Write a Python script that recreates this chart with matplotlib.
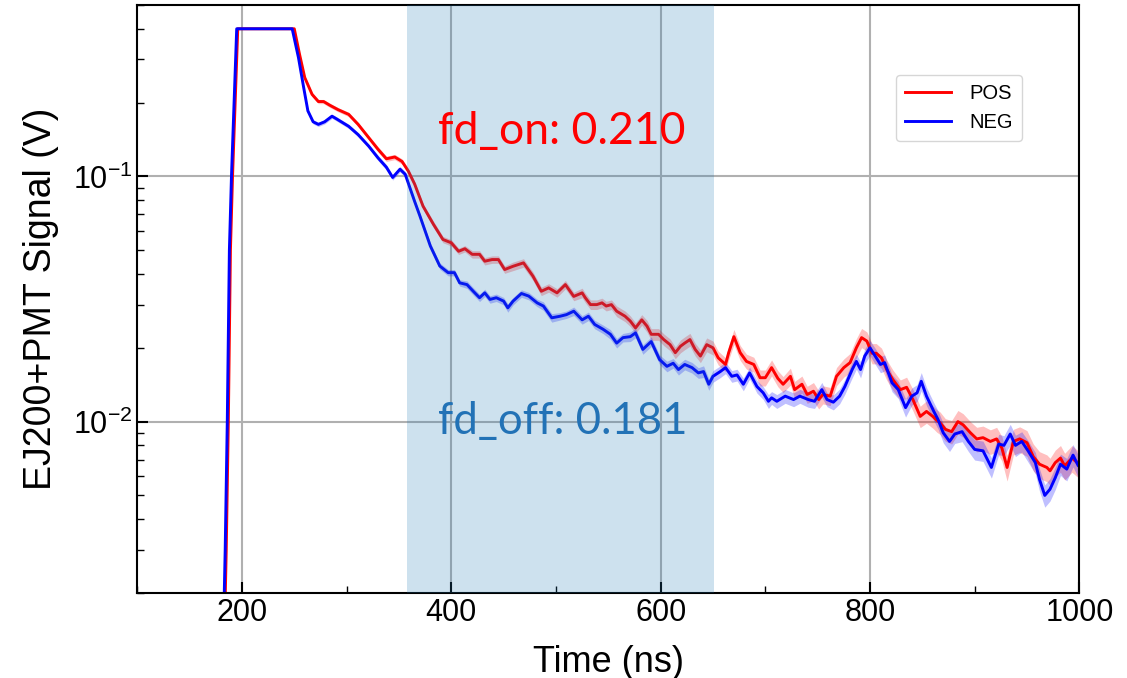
import numpy as np
import matplotlib
matplotlib.use("Agg")
import matplotlib.pyplot as plt
from matplotlib.ticker import MultipleLocator, NullFormatter, LogLocator

plt.rcParams['font.family'] = ['Liberation Sans', 'DejaVu Sans']
plt.rcParams['mathtext.fontset'] = 'custom'
plt.rcParams['mathtext.rm'] = 'Liberation Sans'
plt.rcParams['mathtext.it'] = 'Liberation Sans:italic'

# NEG (blue) trace, time in ns, signal in V, relative error
neg_t = [182, 184, 186, 188, 190, 195, 248, 254, 259, 263,
         268, 273, 279, 286, 290, 302, 311, 321, 330, 338,
         344, 351, 356, 360, 365, 370, 380, 389, 397, 403,
         408, 415, 421, 427, 432, 437, 443, 450, 454, 459,
         467, 474, 482, 488, 496, 504, 510, 517, 525, 531,
         537, 545, 552, 558, 564, 571, 576, 583, 591, 599,
         606, 612, 617, 623, 630, 636, 641, 646, 650, 657,
         662, 668, 673, 679, 685, 692, 698, 703, 706, 711,
         719, 727, 733, 741, 747, 754, 759, 765, 771, 776,
         783, 787, 791, 795, 800, 805, 810, 814, 821, 827,
         834, 840, 845, 849, 854, 861, 865, 870, 876, 881,
         888, 894, 900, 908, 916, 923, 928, 934, 939, 945,
         951, 958, 962, 967, 972, 977, 982, 988, 994, 999,
         1002]
neg_v = [0.0012, 0.003, 0.01, 0.05, 0.1, 0.4, 0.4, 0.305, 0.23, 0.185,
         0.167, 0.163, 0.167, 0.176, 0.172, 0.160, 0.148, 0.133, 0.119, 0.109,
         0.099, 0.107, 0.102, 0.091, 0.079, 0.069, 0.052, 0.0431, 0.0405, 0.0405,
         0.0368, 0.0362, 0.034, 0.032, 0.0335, 0.0315, 0.032, 0.031, 0.0291, 0.031,
         0.0333, 0.0325, 0.0305, 0.0296, 0.0265, 0.0269, 0.0273, 0.0282, 0.026, 0.0269,
         0.0249, 0.0238, 0.0227, 0.0209, 0.022, 0.0222, 0.023, 0.0197, 0.0212, 0.0179,
         0.0168, 0.0173, 0.0163, 0.0171, 0.0166, 0.0158, 0.016, 0.0142, 0.0153, 0.016,
         0.0166, 0.0153, 0.0155, 0.0142, 0.0158, 0.0139, 0.0131, 0.0121, 0.0125, 0.0121,
         0.0127, 0.0123, 0.0127, 0.0123, 0.0121, 0.0135, 0.0123, 0.012, 0.0127, 0.0139,
         0.0163, 0.0176, 0.0163, 0.0185, 0.020, 0.0185, 0.0171, 0.0174, 0.0144, 0.0135,
         0.0114, 0.0127, 0.0131, 0.0146, 0.0127, 0.011, 0.0102, 0.009, 0.0083, 0.0089,
         0.0091, 0.0083, 0.0077, 0.0076, 0.0065, 0.0081, 0.008, 0.0089, 0.008, 0.0083,
         0.0076, 0.0068, 0.0058, 0.005, 0.0053, 0.0059, 0.0067, 0.0064, 0.0073, 0.0066,
         0.0068]
neg_err = [0.01, 0.01, 0.01, 0.01, 0.01, 0.0, 0.0, 0.02, 0.02, 0.02,
           0.02, 0.02, 0.02, 0.02, 0.02, 0.02, 0.02, 0.02, 0.025, 0.025,
           0.025, 0.025, 0.025, 0.025, 0.025, 0.025, 0.03, 0.03, 0.03, 0.03,
           0.03, 0.035, 0.035, 0.035, 0.035, 0.035, 0.035, 0.035, 0.04, 0.035,
           0.035, 0.035, 0.035, 0.04, 0.04, 0.035, 0.035, 0.04, 0.04, 0.04,
           0.04, 0.04, 0.045, 0.045, 0.04, 0.045, 0.045, 0.045, 0.045, 0.045,
           0.05, 0.045, 0.05, 0.05, 0.05, 0.05, 0.055, 0.055, 0.055, 0.055,
           0.055, 0.055, 0.055, 0.06, 0.055, 0.06, 0.06, 0.065, 0.06, 0.065,
           0.065, 0.065, 0.065, 0.07, 0.065, 0.07, 0.065, 0.07, 0.07, 0.07,
           0.075, 0.07, 0.075, 0.07, 0.07, 0.075, 0.075, 0.075, 0.08, 0.08,
           0.085, 0.08, 0.08, 0.085, 0.085, 0.085, 0.085, 0.09, 0.09, 0.085,
           0.09, 0.09, 0.095, 0.095, 0.095, 0.095, 0.095, 0.095, 0.1, 0.095,
           0.1, 0.1, 0.105, 0.105, 0.105, 0.105, 0.1, 0.105, 0.105, 0.105,
           0.105]

# POS (red) trace
pos_t = [183, 185, 187, 189, 191, 196, 250, 255, 260, 267,
         273, 278, 284, 292, 302, 311, 321, 330, 338, 346,
         353, 359, 365, 373, 383, 392, 400, 407, 413, 420,
         427, 432, 439, 445, 451, 459, 469, 478, 486, 493,
         501, 509, 517, 525, 528, 533, 539, 544, 548, 553,
         558, 566, 571, 576, 582, 587, 591, 598, 603, 609,
         614, 619, 623, 628, 633, 638, 644, 650, 655, 662,
         665, 670, 676, 682, 689, 695, 700, 706, 712, 717,
         724, 728, 735, 740, 746, 751, 755, 762, 768, 775,
         781, 787, 792, 797, 802, 806, 811, 816, 822, 829,
         835, 841, 848, 854, 860, 864, 867, 872, 878, 884,
         889, 896, 902, 908, 915, 921, 926, 931, 937, 943,
         950, 956, 962, 969, 972, 977, 982, 986, 993, 998,
         1002]
pos_v = [0.0012, 0.003, 0.01, 0.05, 0.1, 0.4, 0.4, 0.315, 0.253, 0.216,
         0.202, 0.202, 0.195, 0.187, 0.179, 0.163, 0.144, 0.129, 0.118, 0.120,
         0.115, 0.105, 0.093, 0.0756, 0.0637, 0.0553, 0.0536, 0.0495, 0.0507, 0.0481,
         0.0481, 0.0451, 0.0458, 0.0458, 0.0417, 0.043, 0.0444, 0.0392, 0.034, 0.0351,
         0.0335, 0.0362, 0.0324, 0.0335, 0.032, 0.030, 0.030, 0.0305, 0.0296, 0.030,
         0.0282, 0.0269, 0.0257, 0.0241, 0.026, 0.0245, 0.0227, 0.0227, 0.0216, 0.0206,
         0.0191, 0.0203, 0.0209, 0.0216, 0.0197, 0.0185, 0.0206, 0.020, 0.0182, 0.0171,
         0.0191, 0.0222, 0.0191, 0.0176, 0.0171, 0.0151, 0.0151, 0.0166, 0.015, 0.0142,
         0.0153, 0.0135, 0.0142, 0.0129, 0.0133, 0.0123, 0.0129, 0.0127, 0.0153, 0.0166,
         0.0174, 0.020, 0.022, 0.0213, 0.019, 0.019, 0.0182, 0.0163, 0.0148, 0.0135,
         0.0138, 0.0123, 0.0105, 0.011, 0.0105, 0.0101, 0.0099, 0.0093, 0.0091, 0.010,
         0.0097, 0.009, 0.0085, 0.0086, 0.0083, 0.0085, 0.0078, 0.0065, 0.0083, 0.0085,
         0.0082, 0.0072, 0.0067, 0.0065, 0.0063, 0.0068, 0.0071, 0.0066, 0.0071, 0.0068,
         0.007]
pos_err = [0.01, 0.01, 0.01, 0.01, 0.01, 0.0, 0.0, 0.02, 0.02, 0.02,
           0.02, 0.02, 0.02, 0.02, 0.02, 0.02, 0.02, 0.025, 0.025, 0.025,
           0.025, 0.025, 0.025, 0.025, 0.03, 0.03, 0.03, 0.03, 0.03, 0.035,
           0.035, 0.035, 0.035, 0.035, 0.035, 0.04, 0.04, 0.04, 0.04, 0.04,
           0.04, 0.04, 0.04, 0.045, 0.045, 0.045, 0.045, 0.045, 0.045, 0.045,
           0.05, 0.05, 0.05, 0.05, 0.05, 0.055, 0.055, 0.055, 0.055, 0.055,
           0.055, 0.06, 0.06, 0.06, 0.06, 0.06, 0.065, 0.065, 0.065, 0.065,
           0.065, 0.07, 0.07, 0.07, 0.07, 0.075, 0.075, 0.075, 0.075, 0.075,
           0.08, 0.08, 0.08, 0.08, 0.085, 0.085, 0.085, 0.085, 0.085, 0.085,
           0.09, 0.09, 0.09, 0.09, 0.095, 0.095, 0.095, 0.095, 0.095, 0.095,
           0.1, 0.1, 0.1, 0.105, 0.105, 0.105, 0.105, 0.105, 0.11, 0.11,
           0.11, 0.11, 0.115, 0.115, 0.115, 0.115, 0.115, 0.12, 0.12, 0.12,
           0.12, 0.125, 0.125, 0.125, 0.125, 0.125, 0.125, 0.125, 0.125, 0.125,
           0.125]

span = (358, 651)
fd_on = 0.210
fd_off = 0.181

fig = plt.figure(figsize=(11.27, 6.78), dpi=100)
ax = fig.add_axes([0.1218, 0.1254, 0.8359, 0.8672])

for t, v, e, c, lab in [(pos_t, pos_v, pos_err, 'red', 'POS'),
                        (neg_t, neg_v, neg_err, 'blue', 'NEG')]:
    t = np.array(t)
    v = np.array(v)
    e = np.array(e)
    ax.fill_between(t, v * (1 - e), v * (1 + e), color=c, alpha=0.25, lw=0, zorder=2)
    ax.plot(t, v, color=c, lw=2.1, label=lab, zorder=2.5)

ax.axvspan(span[0], span[1], color='tab:blue', alpha=0.22, lw=0, zorder=3)

ax.text(387, 0.152, f'fd_on: {fd_on:.3f}', color='red', fontsize=32,
        family=['Lato', 'DejaVu Sans'], va='center', zorder=6)
ax.text(387, 0.0100, f'fd_off: {fd_off:.3f}', color='#2272b6', fontsize=31.5,
        family=['Lato', 'DejaVu Sans'], va='center', zorder=6)

ax.set_yscale('log')
ax.set_xlim(100, 1000)
ax.set_ylim(0.002, 0.5)
ax.xaxis.set_major_locator(MultipleLocator(200))
ax.xaxis.set_minor_locator(MultipleLocator(100))
ax.yaxis.set_minor_locator(LogLocator(base=10, subs=np.arange(2, 10)))
ax.yaxis.set_minor_formatter(NullFormatter())

ax.grid(True, which='major', color='#b0b0b0', lw=1.5, zorder=1)
ax.set_axisbelow(True)
ax.tick_params(which='both', direction='in', top=False, right=False, labelsize=22)
ax.tick_params(which='major', length=8, width=1.5)
ax.tick_params(which='minor', length=5, width=1)
for s in ax.spines.values():
    s.set_linewidth(1.5)

ax.set_xlabel('Time (ns)', fontsize=26, labelpad=12)
ax.set_ylabel('EJ200+PMT Signal (V)', fontsize=27, labelpad=10)

leg = ax.legend(loc='upper right', bbox_to_anchor=(0.939, 0.881), borderaxespad=0,
                fontsize=14.5, handlelength=2.3, handletextpad=0.9, borderpad=0.45,
                labelspacing=0.5, frameon=True, fancybox=True, edgecolor='#cccccc')
leg.set_zorder(7)

fig.savefig('out.png', dpi=100)
